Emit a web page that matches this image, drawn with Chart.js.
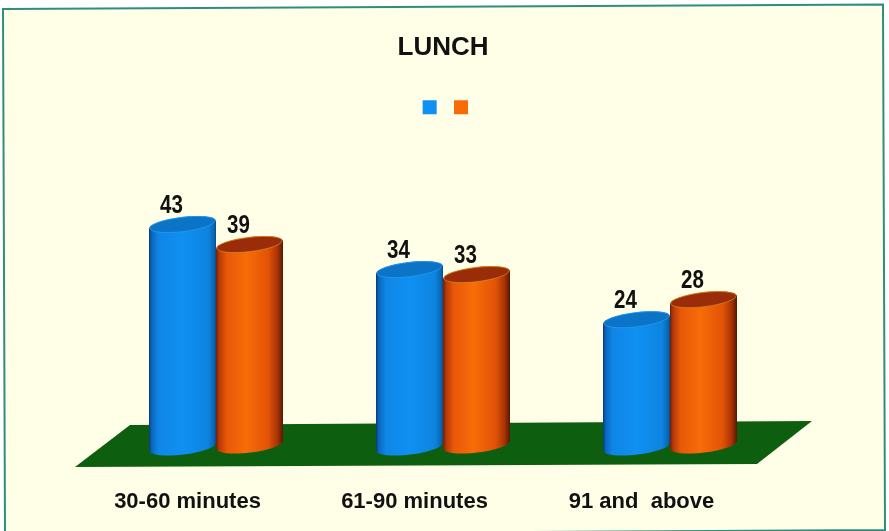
<!DOCTYPE html>
<html><head><meta charset="utf-8">
<style>html,body{margin:0;padding:0;background:#fff;overflow:hidden}
#wrap{position:absolute;left:0;top:0;width:889px;height:531px}</style>
<script src="https://cdn.jsdelivr.net/npm/chart.js@4"></script>
</head><body><div id="wrap"><canvas id="c" width="889" height="531"></canvas></div>
<script>
const categories = ['30-60 minutes', '61-90 minutes', '91 and  above'];
const seriesA = [43, 34, 24];
const seriesB = [39, 33, 28];
const titleText = 'LUNCH';

function barGradient(ctx, left, right, stops) {
  const g = ctx.createLinearGradient(left, 0, right, 0);
  stops.forEach(s => g.addColorStop(s[0], s[1]));
  return g;
}
const blueStops = [[0,'#0a3a70'],[0.04,'#0b66bd'],[0.14,'#0f86e6'],[0.5,'#0f90f2'],[0.88,'#0d84e0'],[0.97,'#0a66b4'],[1,'#0a4a86']];
const orangeStops = [[0,'#6e2008'],[0.05,'#b83a08'],[0.16,'#e85808'],[0.45,'#f86c08'],[0.78,'#e25406'],[0.92,'#a83206'],[1,'#541806']];
const capColors = ['#0b74c6', '#9a2c0a'];
const capRims = ['rgba(40,160,245,0.7)', 'rgba(216,160,32,0.6)'];
const tilt = -0.12;

const panel = {
  id: 'panel',
  afterLayout(chart) {
    chart.legend.left += 7;
    chart.legend.right += 7;
  },
  beforeDraw(chart) {
    const c = chart.ctx;
    c.save();
    c.fillStyle = '#fffee6';
    c.strokeStyle = '#2f8d80';
    c.lineWidth = 2;
    c.beginPath();
    c.moveTo(3, 9);
    c.lineTo(883, 4.5);
    c.lineTo(885, 530);
    c.lineTo(5, 535);
    c.closePath();
    c.fill();
    c.stroke();
    c.restore();
  }
};

const cylinders = {
  id: 'cylinders',
  beforeDatasetsDraw(chart) {
    const c = chart.ctx, xs = chart.scales.x, ys = chart.scales.y;
    const z = ys.getPixelForValue(0);
    c.save();
    c.fillStyle = '#0d5f0f';
    c.beginPath();
    c.moveTo(xs.left - 27.5, z + 27);
    c.lineTo(xs.left + 27.5, z - 15);
    c.lineTo(xs.right + 28.5, z - 19);
    c.lineTo(xs.right - 26.5, z + 24);
    c.closePath();
    c.fill();
    c.restore();
    chart.data.datasets.forEach((ds, i) => {
      const stops = i === 0 ? blueStops : orangeStops;
      chart.getDatasetMeta(i).data.forEach((el) => {
        // cylinder wall: the bar's own box with its ends following the tilted caps
        el.draw = function (ctx) {
          const rx = this.width / 2, dy = rx * Math.sin(-tilt);
          ctx.save();
          ctx.fillStyle = barGradient(ctx, this.x - rx, this.x + rx, stops);
          ctx.beginPath();
          ctx.moveTo(this.x - rx, this.y + dy);
          ctx.lineTo(this.x - rx, this.base + dy);
          ctx.lineTo(this.x + rx, this.base - dy);
          ctx.lineTo(this.x + rx, this.y - dy);
          ctx.closePath();
          ctx.fill();
          ctx.restore();
        };
      });
    });
  },
  afterDatasetsDraw(chart) {
    const c = chart.ctx;
    chart.data.datasets.forEach((ds, i) => {
      const stops = i === 0 ? blueStops : orangeStops;
      chart.getDatasetMeta(i).data.forEach((el) => {
        const rx = el.width / 2, ry = 7.6;
        c.save();
        c.fillStyle = barGradient(c, el.x - rx, el.x + rx, stops);
        c.beginPath();
        c.ellipse(el.x, el.base, rx, ry, tilt, 0, Math.PI * 2);
        c.fill();
        c.beginPath();
        c.ellipse(el.x, el.y, rx, ry, tilt, 0, Math.PI * 2);
        c.fill();
        c.beginPath();
        c.ellipse(el.x, el.y, rx - 0.6, ry - 0.5, tilt, 0, Math.PI * 2);
        c.fillStyle = capColors[i];
        c.fill();
        c.lineWidth = 1;
        c.strokeStyle = capRims[i];
        c.stroke();
        c.restore();
      });
    });
  },
  afterDraw(chart) {
    const c = chart.ctx, squeeze = 0.82;
    c.save();
    c.font = 'bold 25px "Liberation Sans",sans-serif';
    c.fillStyle = '#111';
    c.textAlign = 'center';
    c.textBaseline = 'middle';
    chart.data.datasets.forEach((ds, i) => {
      chart.getDatasetMeta(i).data.forEach((el, j) => {
        c.save();
        c.translate(el.x - 11, el.y - 18.5);
        c.scale(squeeze, 1);
        c.fillText(String(ds.data[j]), 0, 0);
        c.restore();
      });
    });
    c.restore();
  }
};

new Chart(document.getElementById('c'), {
  type: 'bar',
  data: {
    labels: categories,
    datasets: [
      { label: ' ', data: seriesA, base: -1.4, backgroundColor: '#0f90f2', borderWidth: 0, barThickness: 67 },
      { label: ' ', data: seriesB, base: -1, backgroundColor: '#f86c08', borderWidth: 0, barThickness: 67 }
    ]
  },
  plugins: [panel, cylinders],
  options: {
    responsive: false,
    animation: false,
    layout: { padding: { left: 102.5, right: 105.5, top: 8, bottom: 0 } },
    plugins: {
      tooltip: { enabled: false },
      title: {
        display: true, text: titleText, color: '#111',
        font: { family: '"Liberation Sans",sans-serif', size: 26, weight: 'bold' },
        padding: { top: 24.5, bottom: 28.5 }
      },
      legend: {
        display: true, position: 'top',
        labels: { boxWidth: 14, boxHeight: 14, padding: 8, color: '#111', font: { size: 12 } }
      }
    },
    scales: {
      x: {
        afterFit(s) { s.height = 81; },
        grid: { display: false }, border: { display: false },
        ticks: {
          color: '#111', labelOffset: -28.5, padding: 31, maxRotation: 0, autoSkip: false,
          font: { family: '"Liberation Sans",sans-serif', size: 22, weight: 'bold' }
        }
      },
      y: { display: false, min: -2, max: 63 }
    }
  }
});
</script></body></html>
